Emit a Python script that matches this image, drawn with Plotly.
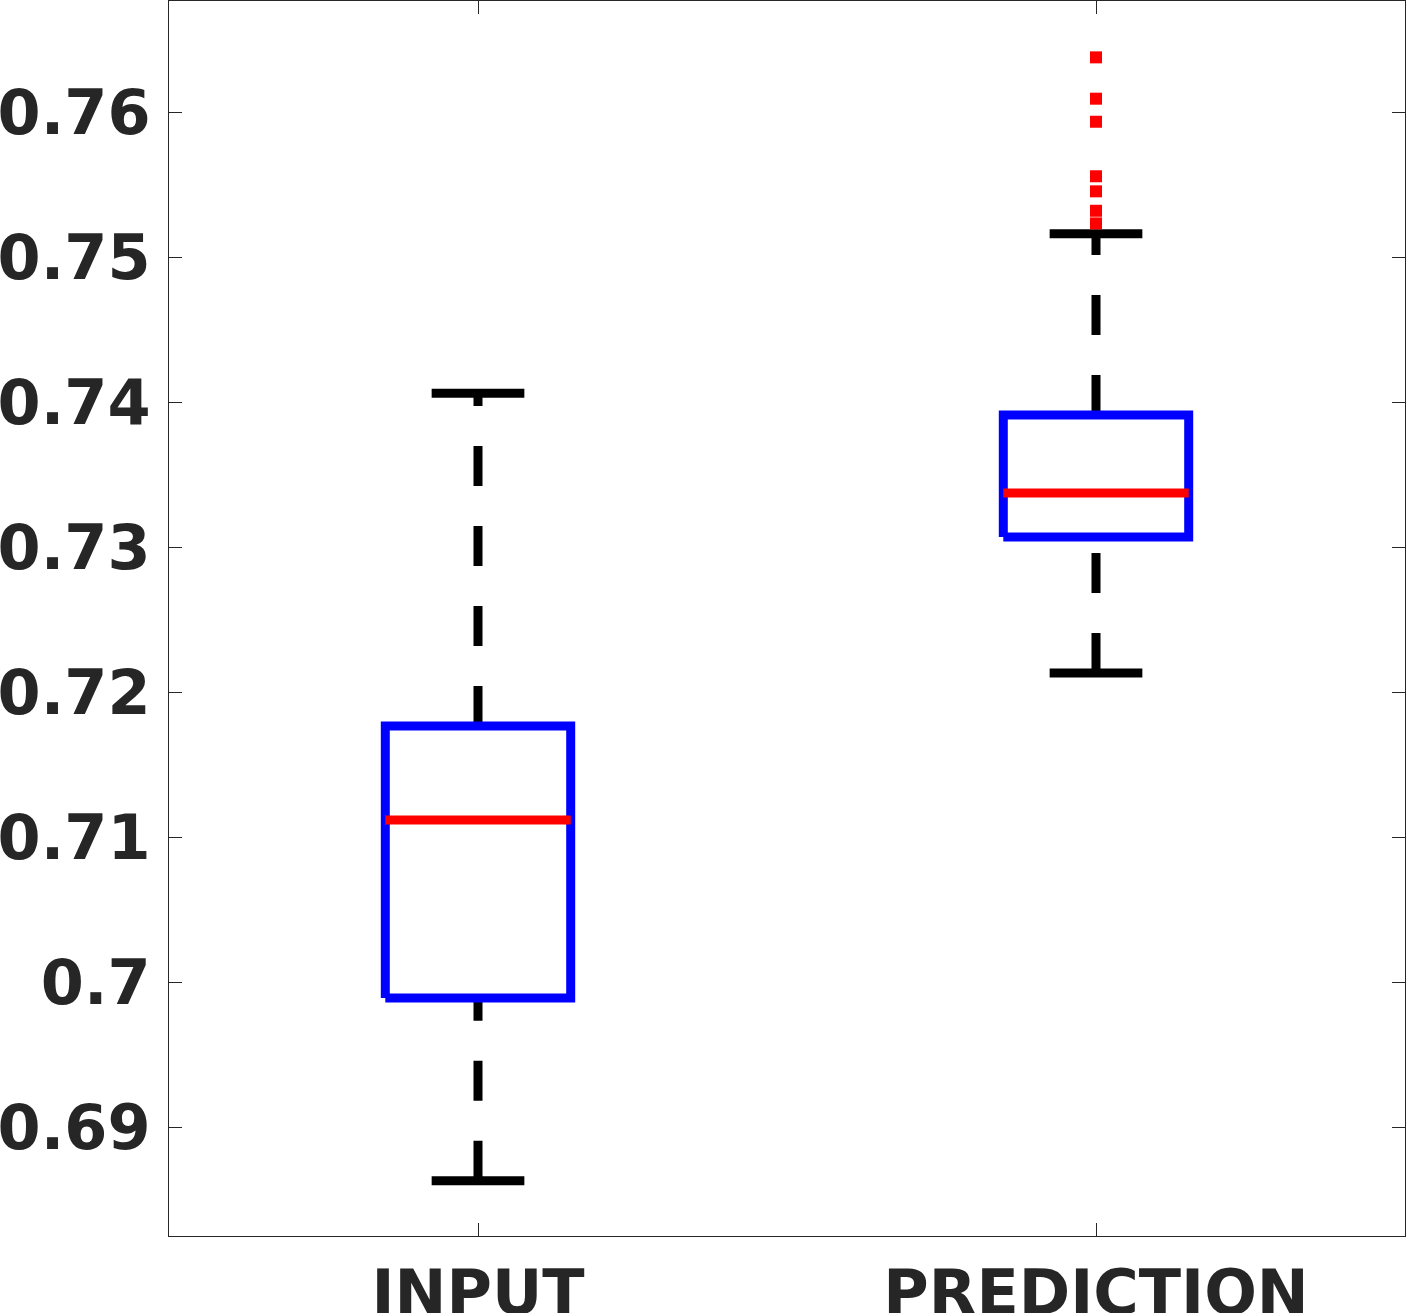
import plotly.graph_objects as go

# group labels and positions
groups = ["INPUT", "PREDICTION"]
xpos = [1, 2]

# box statistics
lower_whisker = [0.68632, 0.72133]
q1 = [0.69892, 0.73071]
median = [0.71119, 0.73374]
q3 = [0.71768, 0.73912]
upper_whisker = [0.74062, 0.75163]

# outliers (only PREDICTION has some)
outliers_pred = [0.76379, 0.76094, 0.75935, 0.75559, 0.75455, 0.75321, 0.75234]

ytick_vals = [0.69, 0.70, 0.71, 0.72, 0.73, 0.74, 0.75, 0.76]
ytick_text = ["0.69", "0.7", "0.71", "0.72", "0.73", "0.74", "0.75", "0.76"]

half_box = 0.15
half_cap = 0.075
lw = 9

fig = go.Figure()

for i, x in enumerate(xpos):
    # whiskers, drawn from the lower end upward so the dash pattern starts there
    for a, b in [(lower_whisker[i], q1[i]), (q3[i], upper_whisker[i])]:
        fig.add_trace(go.Scatter(x=[x, x], y=[a, b], mode="lines",
                                 line=dict(color="black", width=lw, dash="40px,40px"),
                                 showlegend=False, hoverinfo="skip"))
    # caps
    for v in [lower_whisker[i], upper_whisker[i]]:
        fig.add_trace(go.Scatter(x=[x - half_cap, x + half_cap], y=[v, v], mode="lines",
                                 line=dict(color="black", width=lw),
                                 showlegend=False, hoverinfo="skip"))
    # box
    fig.add_trace(go.Scatter(
        x=[x - half_box, x + half_box, x + half_box, x - half_box, x - half_box],
        y=[q1[i], q1[i], q3[i], q3[i], q1[i]], mode="lines",
        line=dict(color="#0000ff", width=lw),
        showlegend=False, hoverinfo="skip"))
    # median
    fig.add_trace(go.Scatter(x=[x - half_box, x + half_box], y=[median[i], median[i]],
                             mode="lines", line=dict(color="#ff0000", width=lw),
                             showlegend=False, hoverinfo="skip"))

fig.add_trace(go.Scatter(x=[xpos[1]] * len(outliers_pred), y=outliers_pred, mode="markers",
                         marker=dict(symbol="square", size=12, color="#ff0000", line=dict(width=0)),
                         showlegend=False))

axis_col = "#262626"
tick_font = dict(family="DejaVu Sans", size=62, color=axis_col, weight="bold")

fig.update_layout(
    width=1406, height=1313,
    margin=dict(l=169, r=1, t=1, b=77),
    plot_bgcolor="white", paper_bgcolor="white",
    xaxis=dict(range=[0.5, 2.5], tickvals=xpos, ticktext=groups, automargin=False,
               showline=True, linecolor=axis_col, linewidth=1, mirror="ticks",
               ticks="inside", ticklen=13, tickcolor=axis_col, tickwidth=1,
               showgrid=False, zeroline=False, tickfont=tick_font,
               ticklabelstandoff=3),
    yaxis=dict(range=[0.682505, 0.767677], tickvals=ytick_vals, ticktext=ytick_text,
               automargin=False,
               showline=True, linecolor=axis_col, linewidth=1, mirror="ticks",
               ticks="inside", ticklen=13, tickcolor=axis_col, tickwidth=1,
               showgrid=False, zeroline=False, tickfont=tick_font,
               ticklabelstandoff=5),
)

# drop the page's default body margin so the figure sits at the window's corner
fig.write_html("out.html", config={"displayModeBar": False},
               post_script="document.body.style.margin='0';document.body.style.overflow='hidden';")
